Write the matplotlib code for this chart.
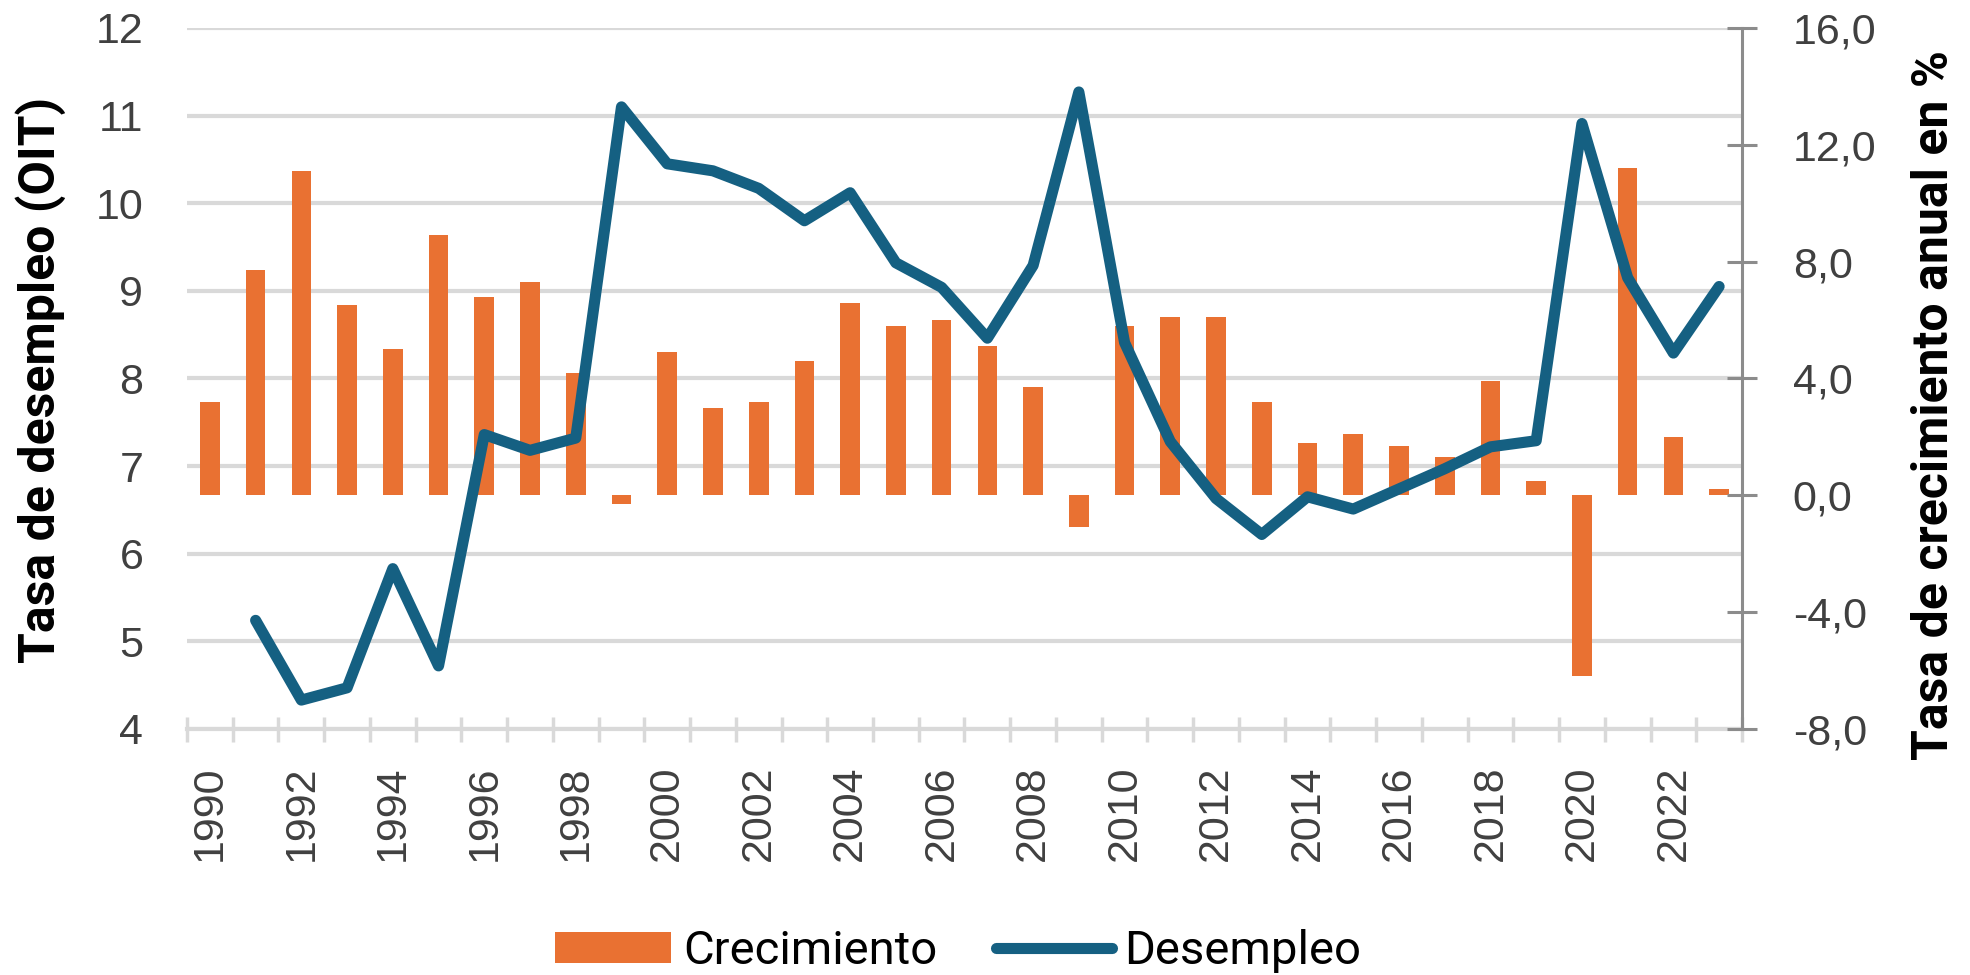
import numpy as np
import matplotlib
matplotlib.use("Agg")
import matplotlib.pyplot as plt
from matplotlib import font_manager
from matplotlib.ticker import FixedLocator

# ---------------- data ----------------
years = list(range(1990, 2024))
crecimiento = [3.2, 7.7, 11.1, 6.5, 5.0, 8.9, 6.8, 7.3, 4.2, -0.3,
               4.9, 3.0, 3.2, 4.6, 6.6, 5.8, 6.0, 5.1, 3.7, -1.1,
               5.8, 6.1, 6.1, 3.2, 1.8, 2.1, 1.7, 1.3, 3.9, 0.5,
               -6.2, 11.2, 2.0, 0.2]
desempleo = [np.nan, 5.24, 4.33, 4.47, 5.83, 4.72, 7.36, 7.18, 7.32, 11.10,
             10.45, 10.37, 10.17, 9.80, 10.12, 9.32, 9.04, 8.46, 9.29, 11.27,
             8.41, 7.28, 6.63, 6.22, 6.65, 6.51, 6.74, 6.97, 7.22, 7.29,
             10.91, 9.15, 8.29, 9.05]
left_ticks = [4, 5, 6, 7, 8, 9, 10, 11, 12]
right_ticks = [-8, -4, 0, 4, 8, 12, 16]
year_labels = [str(y) for y in years[::2]]

# ---------------- fonts ----------------
names = {f.name for f in font_manager.fontManager.ttflist}
narrow = 'Liberation Sans Narrow' if 'Liberation Sans Narrow' in names else 'Roboto'
regular = 'Liberation Sans'

ORANGE = '#E97132'
BLUE = '#156082'
GRID = '#d9d9d9'
TICKC = '#404040'

W, H = 1970, 975
fig = plt.figure(figsize=(W / 100, H / 100), dpi=100)
L, R, T, B = 187, 1742, 28, 729
ax = fig.add_axes([L / W, 1 - B / H, (R - L) / W, (B - T) / H])
ax2 = ax.twinx()
ax3 = ax.twinx()

x = np.arange(len(years))

# bars (right scale)
bars = ax2.bar(x, crecimiento, width=0.43, color=ORANGE, label='Crecimiento')
ax2.set_ylim(-8, 16)

# line (left scale)
ax.set_ylim(4, 12)
ax3.set_ylim(4, 12)
line, = ax3.plot(x, desempleo, color=BLUE, lw=8, solid_capstyle='round',
                 solid_joinstyle='round', label='Desempleo')
ax3.axis('off')

ax.set_xlim(-0.5, len(years) - 0.5)
ax2.set_xlim(ax.get_xlim())
ax3.set_xlim(ax.get_xlim())

# left axis
ax.set_yticks(left_ticks)
ax.set_yticklabels([str(v) for v in left_ticks], fontsize=31, color=TICKC,
                   family=regular)
ax.tick_params(axis='y', length=0, pad=31.5)
ax.grid(axis='y', color=GRID, lw=3)
ax.set_axisbelow(True)
for s in ['left', 'top', 'right']:
    ax.spines[s].set_visible(False)
ax.spines['bottom'].set_color(GRID)
ax.spines['bottom'].set_linewidth(3)

# x axis
ax.set_xticks(x[::2])
ax.set_xticklabels(year_labels, rotation=90, fontsize=31, color=TICKC,
                   family=regular)
ax.tick_params(axis='x', which='major', length=0, pad=26)
ax.xaxis.set_minor_locator(FixedLocator(np.arange(-0.5, len(years), 1.0)))
ax.tick_params(axis='x', which='minor', direction='inout', length=18,
               width=2.5, color=GRID)

# right axis
ax2.set_yticks(right_ticks)
ax2.set_yticklabels([f"{v:.1f}".replace('.', ',') for v in right_ticks],
                    fontsize=31, color=TICKC, family=regular)
ax2.tick_params(axis='y', direction='inout', length=21, width=2.2,
                color='#8c8c8c', pad=26)
for s in ['left', 'top', 'bottom']:
    ax2.spines[s].set_visible(False)
ax2.spines['right'].set_color('#8c8c8c')
ax2.spines['right'].set_linewidth(2.2)

# axis titles
fig.text(41 / W, 1 - 380 / H, 'Tasa de desempleo (OIT)', rotation=90,
         ha='center', va='center', fontsize=36, fontweight='bold',
         family=narrow, color='black')
fig.text(1935 / W, 1 - 405 / H, 'Tasa de crecimiento anual en %', rotation=90,
         ha='center', va='center', fontsize=36, fontweight='bold',
         family=narrow, color='black')

# legend
leg = fig.legend([bars, line], ['Crecimiento', 'Desempleo'], loc='center',
                 bbox_to_anchor=(958 / W, 1 - 951 / H), ncol=2, frameon=False,
                 handlelength=2.45, handleheight=0.65, handletextpad=0.25,
                 columnspacing=1.25, prop={'family': narrow, 'size': 34})

fig.savefig('out.png', dpi=100)
